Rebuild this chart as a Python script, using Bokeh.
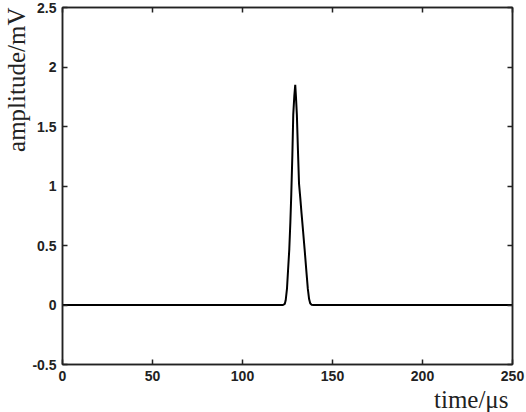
from bokeh.plotting import figure
from bokeh.models import LinearAxis, FixedTicker, CustomJSTickFormatter, Title, Range1d
from bokeh.embed import file_html
from bokeh.resources import INLINE

# data
time_us = [0, 122.5, 123.5, 124, 124.7, 125.3, 126, 126.6, 127.1, 127.7, 128.2, 128.8,
           129.3, 129.7, 130.2, 130.8, 131.4, 132.1, 132.8, 133.6, 134.5, 135.4, 136.3,
           137, 137.6, 138.3, 139.5, 250]
amplitude_mV = [0, 0, 0.01, 0.04, 0.135, 0.29, 0.47, 0.70, 0.93, 1.26, 1.6, 1.76,
                1.85, 1.75, 1.6, 1.3, 1.02, 0.9, 0.77, 0.63, 0.47, 0.30, 0.135,
                0.05, 0.015, 0.003, 0, 0]
x_ticks = [0, 50, 100, 150, 200, 250]
y_ticks = [-0.5, 0, 0.5, 1, 1.5, 2, 2.5]
x_label = "time/\u03bcs"
y_label = "amplitude/mV"

p = figure(width=526, height=412, output_backend="svg", toolbar_location=None,
           x_range=Range1d(0, 250), y_range=Range1d(-0.5, 2.5),
           x_axis_location=None, y_axis_location=None,
           min_border_left=59, min_border_right=14, min_border_top=7, min_border_bottom=46)
p.grid.visible = False
p.outline_line_color = "#222222"
p.outline_line_width = 1.5
p.background_fill_color = "white"
p.border_fill_color = "white"

fmt = CustomJSTickFormatter(code="return String(tick);")
blank = CustomJSTickFormatter(code="return '';")

def make_axis(ticks, show_labels):
    ax = LinearAxis(ticker=FixedTicker(ticks=ticks), formatter=fmt if show_labels else blank)
    ax.major_tick_in = 5
    ax.major_tick_out = 0
    ax.minor_tick_in = 0
    ax.minor_tick_out = 0
    ax.axis_line_color = "#222222"
    ax.axis_line_width = 1.5
    ax.major_tick_line_color = "#222222"
    ax.major_tick_line_width = 1.5
    ax.major_label_text_font = "Liberation Sans"
    ax.major_label_text_font_style = "bold"
    ax.major_label_text_color = "#222222"
    if show_labels:
        ax.major_label_text_font_size = "14px"
        ax.major_label_standoff = 6
    else:
        ax.major_label_text_font_size = "1px"
        ax.major_label_standoff = 0
    return ax

p.add_layout(make_axis(x_ticks, True), "below")
p.add_layout(make_axis(y_ticks, True), "left")
p.add_layout(make_axis(x_ticks, False), "above")
p.add_layout(make_axis(y_ticks, False), "right")

p.line(time_us, amplitude_mV, line_color="black", line_width=2)

p.add_layout(Title(text=x_label, align="right", text_font="Liberation Serif",
                   text_font_size="25px", text_font_style="normal", text_color="#222222",
                   standoff=0, offset=4), "below")
p.add_layout(Title(text=y_label, align="right", text_font="Liberation Serif",
                   text_font_size="25px", text_font_style="normal", text_color="#222222",
                   standoff=0, offset=0), "left")

open("out.html", "w").write(file_html(p, INLINE))
